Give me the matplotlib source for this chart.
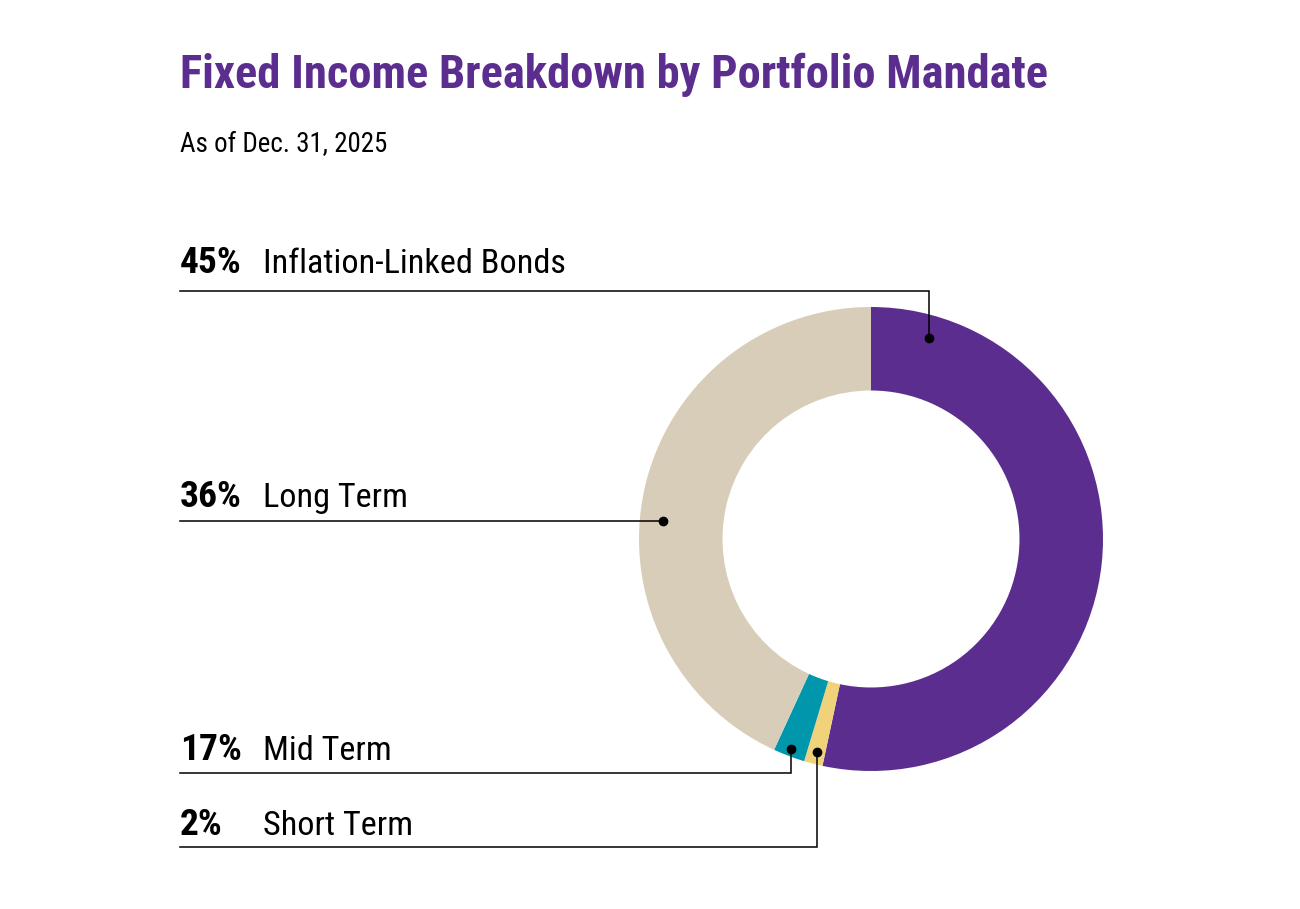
import numpy as np
import matplotlib
matplotlib.use("Agg")
import matplotlib.pyplot as plt
from matplotlib import font_manager

# data
categories = ["Inflation-Linked Bonds", "Short Term", "Mid Term", "Long Term"]
shares = [53.3, 1.3, 2.2, 43.1]          # wedge sizes as drawn in the ring
pct_labels = ["45%", "2%", "17%", "36%"]  # printed percentages
colors = ["#5B2D8E", "#F0D27A", "#0097AD", "#D8CDB9"]

# look for a narrow font
fam, stretch = "DejaVu Sans", "normal"
found = [(f.name, f.stretch) for f in font_manager.fontManager.ttflist]
for cand in ["Roboto Condensed", "Liberation Sans Narrow", "Open Sans Condensed"]:
    if any(n == cand for n, s in found):
        fam = cand
        break
else:
    if any(n == "DejaVu Sans" and s == "condensed" for n, s in found):
        stretch = "condensed"

W, H = 1300, 909
fig = plt.figure(figsize=(13, 9.09), dpi=100)
ax = fig.add_axes([0, 0, 1, 1])

cx, cy, R = 871, H - 539, 232
ax.pie(shares, colors=colors, startangle=90, counterclock=False,
       radius=R, center=(cx, cy), frame=True,
       wedgeprops=dict(width=R * 0.36, linewidth=0))
ax.set_xlim(0, W)
ax.set_ylim(0, H)
ax.set_aspect("equal")
ax.axis("off")

renderer = fig.canvas.get_renderer()


def put(x, y, s, width, size, **kw):
    # shrink/grow the size so the text spans the given pixel width
    t = fig.text(x / W, 1 - y / H, s, family=fam, stretch=stretch,
                 fontsize=size, va="baseline", **kw)
    w = t.get_window_extent(renderer).width
    t.set_fontsize(min(size * width / w, size * 1.1))
    return t


put(180, 88, "Fixed Income Breakdown by Portfolio Mandate", 870, 34,
    weight="bold", color="#5B2D8E")
put(180, 152, "As of Dec. 31, 2025", 208, 24, color="black")

pct_size = put(180, 273, pct_labels[0], 62, 26, weight="bold").get_fontsize()
name_size = put(263, 273, categories[0], 303, 26).get_fontsize()

# label rows: (text baseline y, leader y, dot angle clockwise from top, dot radius)
rows = {
    "Inflation-Linked Bonds": (273, 291, 16, 209),
    "Long Term": (507, 521, 275, 209),
    "Mid Term": (760, 773, 200.9, 225),
    "Short Term": (835, 847, 194.2, 220),
}
for i, (name, pct) in enumerate(zip(categories, pct_labels)):
    ty, ly, ang, r = rows[name]
    dx = cx + r * np.sin(np.radians(ang))
    dy = cy + r * np.cos(np.radians(ang))
    if i > 0:
        fig.text(180 / W, 1 - ty / H, pct, family=fam, stretch=stretch,
                 weight="bold", fontsize=pct_size, va="baseline")
        fig.text(263 / W, 1 - ty / H, name, family=fam, stretch=stretch,
                 fontsize=name_size, va="baseline")
    ax.plot([180, dx, dx], [H - ly, H - ly, dy], color="black", lw=1.1,
            solid_joinstyle="miter")
    ax.plot(dx, dy, "o", color="black", ms=6)

fig.savefig("out.png", dpi=100, facecolor="white")
